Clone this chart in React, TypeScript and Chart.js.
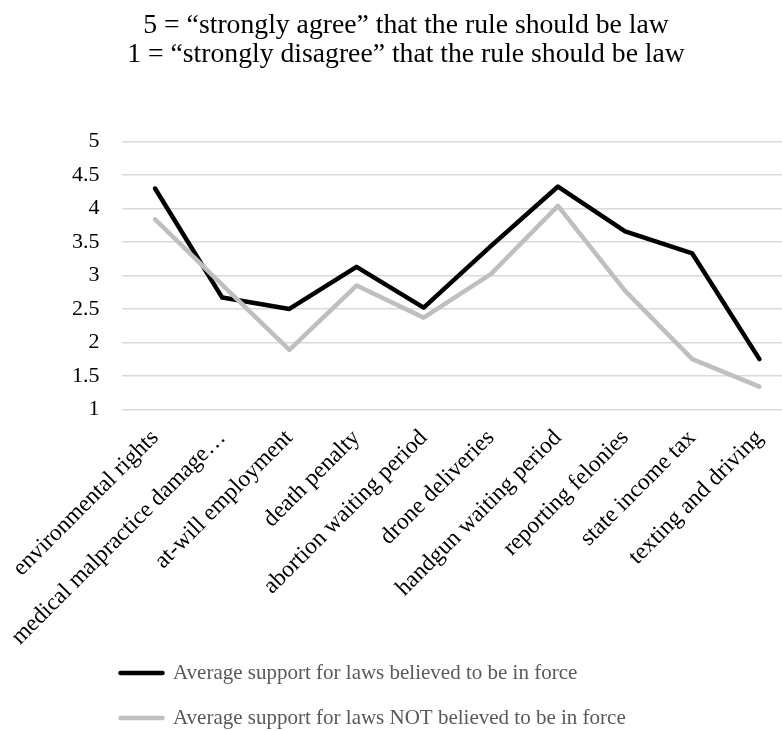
import React, { useEffect, useRef } from "react";
import { Chart, registerables } from "chart.js";

Chart.register(...registerables);

const categories = [
  "environmental rights",
  "medical malpractice damage…",
  "at-will employment",
  "death penalty",
  "abortion waiting period",
  "drone deliveries",
  "handgun waiting period",
  "reporting felonies",
  "state income tax",
  "texting and driving",
];

const inForceSupport = [4.3, 2.67, 2.5, 3.13, 2.52, 3.44, 4.33, 3.66, 3.33, 1.75];
const notInForceSupport = [3.84, 2.86, 1.89, 2.85, 2.37, 3.02, 4.04, 2.77, 1.75, 1.34];

const seriesLabels = [
  "Average support for laws believed to be in force",
  "Average support for laws NOT believed to be in force",
];

const headingLines = [
  "5 = “strongly agree” that the rule should be law",
  "1 = “strongly disagree” that the rule should be law",
];

const yTickValues = [1, 1.5, 2, 2.5, 3, 3.5, 4, 4.5, 5];

const SERIF = "'Liberation Serif', 'Times New Roman', serif";
const Y_TICK_SIZE = 22;
const Y_LABEL_GAP = 22;

// Two-line heading drawn above the plot
const headingPlugin = {
  id: "heading",
  afterDraw(chart: Chart) {
    const { ctx } = chart;
    ctx.save();
    ctx.fillStyle = "#000000";
    ctx.font = `27.7px ${SERIF}`;
    ctx.textAlign = "center";
    ctx.textBaseline = "alphabetic";
    ctx.fillText(headingLines[0], 406, 33);
    ctx.fillText(headingLines[1], 406, 61.5);
    ctx.restore();
  },
};

// Width of the widest y tick label, so the mirrored labels can sit right-aligned left of the plot
function widestYLabel(): number {
  const c = document.createElement("canvas").getContext("2d");
  if (!c) return 28;
  c.font = `${Y_TICK_SIZE}px ${SERIF}`;
  return Math.max(...yTickValues.map((v) => c.measureText(String(v)).width));
}

export default function App() {
  const canvasRef = useRef<HTMLCanvasElement | null>(null);

  useEffect(() => {
    if (!canvasRef.current) return;
    const widest = widestYLabel();
    const chart = new Chart(canvasRef.current, {
      type: "line",
      data: {
        labels: categories,
        datasets: [
          {
            label: seriesLabels[0],
            data: inForceSupport,
            borderColor: "#000000",
            backgroundColor: "#000000",
            borderWidth: 4.5,
            pointRadius: 0,
            pointHoverRadius: 0,
            borderJoinStyle: "round",
            borderCapStyle: "round",
            tension: 0,
            order: 2,
          },
          {
            label: seriesLabels[1],
            data: notInForceSupport,
            borderColor: "#bfbfbf",
            backgroundColor: "#bfbfbf",
            borderWidth: 4.5,
            pointRadius: 0,
            pointHoverRadius: 0,
            borderJoinStyle: "round",
            borderCapStyle: "round",
            tension: 0,
            order: 1,
          },
        ],
      },
      options: {
        responsive: false,
        animation: false,
        layout: { padding: { top: 141.7, left: 96.5, right: 0, bottom: 1.5 } },
        plugins: {
          title: { display: false },
          tooltip: { enabled: false },
          legend: {
            display: true,
            position: "bottom",
            align: "start",
            labels: {
              usePointStyle: true,
              pointStyle: "line",
              pointStyleWidth: 42,
              padding: 24,
              color: "#595959",
              font: { family: SERIF, size: 21 },
              generateLabels(chart: Chart) {
                return chart.data.datasets.map((ds: any, i: number) => ({
                  text: ds.label,
                  fillStyle: ds.borderColor,
                  strokeStyle: ds.borderColor,
                  lineWidth: 4.5,
                  lineCap: "round",
                  pointStyle: "line",
                  hidden: false,
                  datasetIndex: i,
                  fontColor: "#595959",
                }));
              },
            },
          },
        },
        scales: {
          x: {
            type: "category",
            offset: true,
            grid: { display: false, drawTicks: false },
            border: { display: false },
            ticks: {
              autoSkip: false,
              maxRotation: 45,
              minRotation: 45,
              color: "#000000",
              font: { family: SERIF, size: 23.5 },
              padding: 15,
            },
            afterFit(scale: any) {
              scale.height = 229.2;
              // rotated labels may hang past the plot edges; keep the plot width fixed
              scale.paddingLeft = 0;
              scale.paddingRight = 0;
              // let the longest rotated label run slightly below the axis box
              scale._computeLabelArea = () => undefined;
            },
          },
          y: {
            min: 1,
            max: 5,
            afterBuildTicks(scale: any) {
              scale.ticks = yTickValues.map((v) => ({ value: v }));
            },
            grid: { color: "#d9d9d9", lineWidth: 1.5, drawTicks: false },
            border: { display: false },
            ticks: {
              color: "#000000",
              font: { family: SERIF, size: Y_TICK_SIZE },
              mirror: true,
              crossAlign: "far",
              padding: -(Y_LABEL_GAP + widest),
              callback: (value: number | string) => String(value),
            },
            afterFit(scale: any) {
              scale.width = 25;
            },
          },
        },
      },
      plugins: [headingPlugin],
    });
    return () => chart.destroy();
  }, []);

  return (
    <div
      style={{
        position: "absolute",
        left: 0,
        top: 0,
        width: 782,
        height: 731,
        overflow: "hidden",
        background: "#ffffff",
      }}
    >
      <canvas ref={canvasRef} width={793} height={740} style={{ display: "block" }} />
    </div>
  );
}
